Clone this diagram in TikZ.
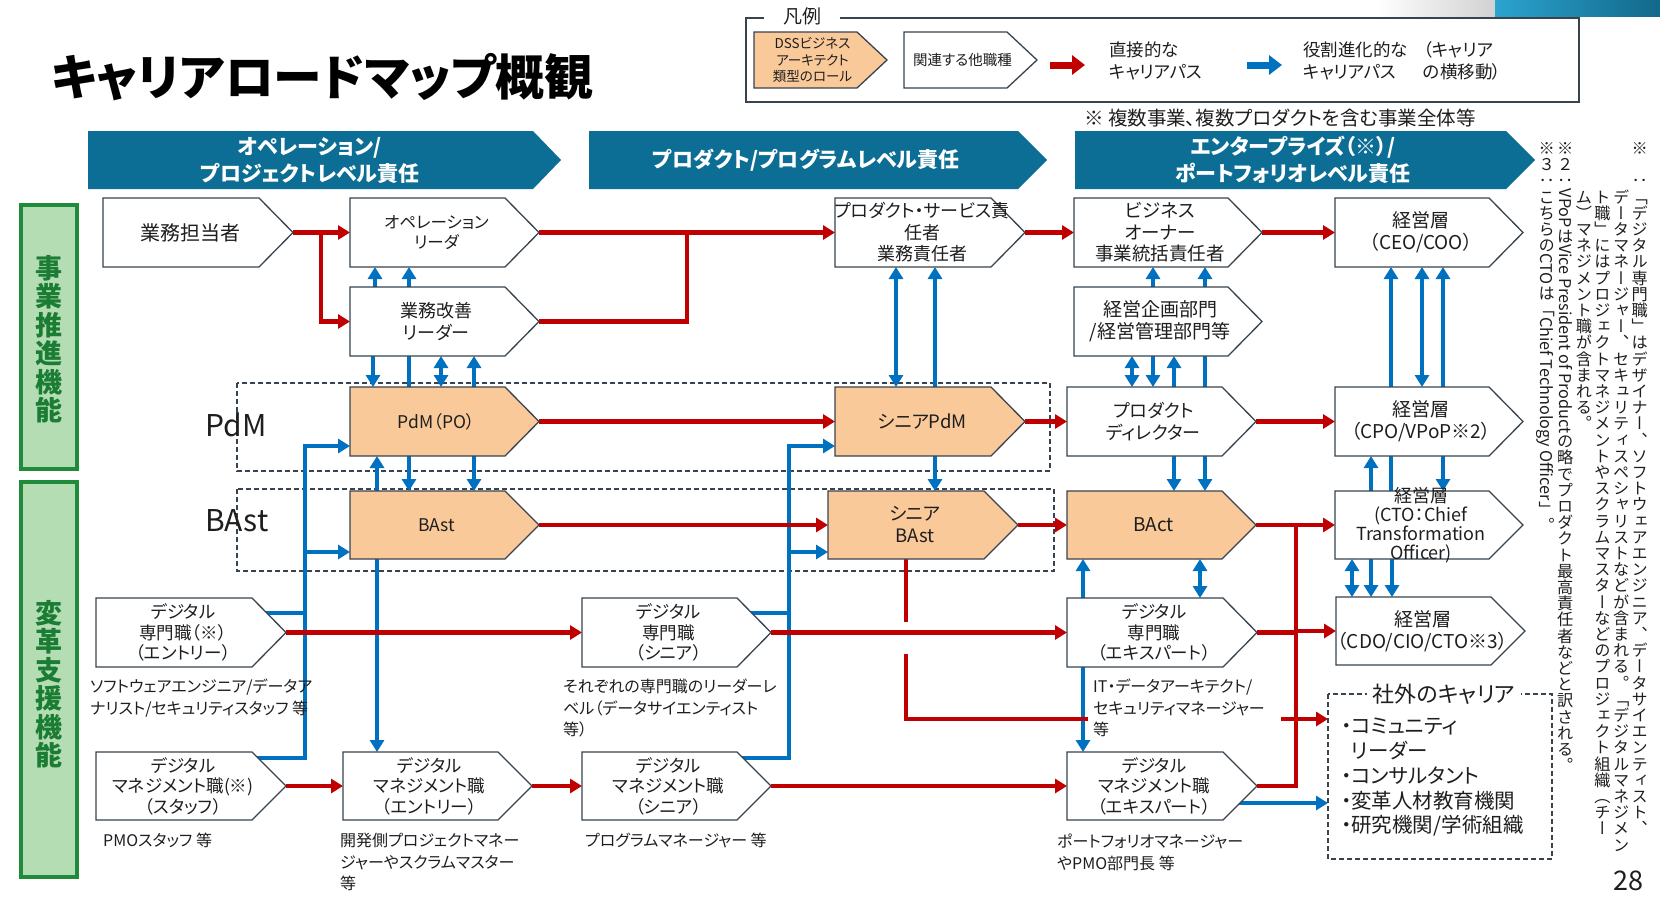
\documentclass[tikz,border=0pt]{standalone}
\usepackage{fontspec}
\setmainfont{Noto Sans CJK JP}[RawFeature=+palt]
\newfontfamily\vfont{Noto Sans CJK JP}[RawFeature=+vert]
\usetikzlibrary{arrows.meta}
\definecolor{myred}{HTML}{C00000}
\definecolor{myblue}{HTML}{0070C0}
\definecolor{hdrc}{HTML}{0C6E94}
\definecolor{org}{HTML}{FAC999}
\definecolor{bord}{HTML}{37434F}
\definecolor{gfill}{HTML}{B4DDB4}
\definecolor{gline}{HTML}{1E8A3A}
\definecolor{gtext}{HTML}{1B7C34}
\definecolor{txt}{HTML}{1E1E1E}
\definecolor{tealA}{HTML}{2BA3CF}
\definecolor{tealB}{HTML}{12688A}
\newcommand\fsz[2]{\fontsize{#1}{#2}\selectfont}
\newcommand\tatechar[1]{\rotatebox[origin=c]{90}{\makebox[1em]{\rule[-0.12em]{0pt}{1em}#1}}}
\def\tateT#1{\tateloop#1\tateend}
\def\tateloop#1{\ifx#1\tateend\else\tatechar{#1}\expandafter\tateloop\fi}
\pgfdeclarelayer{back}
\pgfdeclarelayer{bg}
\pgfsetlayers{back,bg,main}
\def\ptip{34}
\newcommand\careerbox[8]{%
  \path[boxline,fill=#1] (#4,#5) -- ({#6-\ptip},#5) -- (#6,{(#5+#7)/2}) -- ({#6-\ptip},#7) -- (#4,#7) -- cycle;
  \node[geom,minimum width={#6-#4},minimum height={#7-#5}] (#3) at ({(#4+#6)/2},{(#5+#7)/2}) {};
  \node[boxtext,#2] (#3t) at ({(#4+#6)/2-8},{(#5+#7)/2}) {#8};
}
\tikzset{
  boxline/.style={draw=bord,line width=1.3pt},
  geom/.style={rectangle,inner sep=0pt,outer sep=0pt},
  boxtext/.style={align=center,inner sep=0pt,font=\fsz{17.5}{20.5},text=txt},
  rl/.style={draw=myred,line width=4.4pt},
  bl/.style={draw=myblue,line width=4.4pt},
  arr/.style={-{Triangle[length=12pt,width=14pt]}},
  darr/.style={{Triangle[length=12pt,width=14pt]}-{Triangle[length=12pt,width=14pt]}},
  captxt/.style={align=left,anchor=north west,inner sep=0pt,font=\fsz{16}{21.5},text=txt},
  dashbox/.style={draw=bord,line width=1.1pt,dash pattern=on 5pt off 3pt},
  hdrtext/.style={align=center,text=white,font=\bfseries\fsz{21}{27},inner sep=0pt},
  grn/.style={fill=gfill,draw=gline,line width=3.5pt,inner sep=0pt},
  grntext/.style={align=center,text=gtext,font=\bfseries\fsz{27}{28.5},inner sep=0pt},
}
\begin{document}
\begin{tikzpicture}[x=1pt,y=-1pt]
\useasboundingbox (0,0) rectangle (1660,919);
\begin{pgfonlayer}{back}
  \fill[white] (0,0) rectangle (1660,919);
  \shade[left color=white,right color=black!18] (1376,0) rectangle (1495,16);
  \shade[left color=tealA,right color=tealB] (1495,0) rectangle (1660,16);
  \draw[dashbox] (237,383) rectangle (1050,471);
  \draw[dashbox] (237,489) rectangle (1054,571);
\end{pgfonlayer}

% title
\node[anchor=west,inner sep=0pt] (title) at (51,77) {\resizebox{542pt}{!}{\bfseries\fsz{54}{60}キャリアロードマップ概観}};

% legend
\node[geom,draw=bord,line width=1.3pt,minimum width=833pt,minimum height=84pt] (LG) at (1162.5,60) {};
\node[fill=white,inner xsep=19pt,inner ysep=2pt,font=\fsz{19}{22},text=txt] (LGt) at (802,16) {凡例};
\def\ptip{30}
\careerbox{org}{font=\fsz{13.5}{16.5}}{L1}{754}{32}{887}{88}{DSSビジネス\\アーキテクト\\類型のロール}
\careerbox{white}{font=\fsz{14.5}{17}}{L2}{904}{32}{1037}{88}{関連する他職種}
\def\ptip{34}
\coordinate (la1) at (1050,65); \coordinate (la2) at (1085,65);
\coordinate (lb1) at (1247,65); \coordinate (lb2) at (1282,65);
\draw[draw=myred,line width=7pt,-{Triangle[length=13pt,width=19pt]}] (la1) -- (la2);
\draw[draw=myblue,line width=7pt,-{Triangle[length=13pt,width=19pt]}] (lb1) -- (lb2);
\node[anchor=west,align=left,inner sep=0pt,font=\fsz{17.5}{22},text=txt] (lt1) at (1109,61) {直接的な\\キャリアパス};
\node[anchor=west,align=left,inner sep=0pt,font=\fsz{17.5}{22},text=txt] (lt2) at (1303,61) {役割進化的な\\キャリアパス};
\node[anchor=west,align=left,inner sep=0pt,font=\fsz{17.5}{22},text=txt] (lt3) at (1423,61) {（キャリア\\の横移動）};
\node[anchor=west,inner sep=0pt,font=\fsz{19.5}{23},text=txt] (note0) at (1084,118) {※ 複数事業、複数プロダクトを含む事業全体等};

% header banners
\path[fill=hdrc] (88,131) -- (533,131) -- (561,160) -- (533,189) -- (88,189) -- cycle;
\node[hdrtext] (H1) at (310,160) {オペレーション/\\プロジェクトレベル責任};
\path[fill=hdrc] (589,131) -- (1018,131) -- (1047,160) -- (1018,189) -- (589,189) -- cycle;
\node[hdrtext] (H2) at (806,160) {プロダクト/プログラムレベル責任};
\path[fill=hdrc] (1075,131) -- (1506,131) -- (1535,160) -- (1506,189) -- (1075,189) -- cycle;
\node[hdrtext] (H3) at (1293,160) {エンタープライズ（※）/\\ポートフォリオレベル責任};

% green side labels
\node[grn,minimum width=56pt,minimum height=264pt] (G1) at (49,337) {};
\node[grntext] (G1t) at (49,339) {事\\業\\推\\進\\機\\能};
\node[grn,minimum width=56pt,minimum height=395pt] (G2) at (49,679.5) {};
\node[grntext] (G2t) at (49,684) {変\\革\\支\\援\\機\\能};

% row labels
\node[anchor=west,inner sep=0pt,font=\fsz{30}{36},text=txt] (lpdm) at (205,425) {PdM};
\node[anchor=west,inner sep=0pt,font=\fsz{30}{36},text=txt] (lbast) at (205,521) {BAst};

% boxes
\careerbox{white}{font=\fsz{20}{24}}{A1}{103}{198}{293}{267}{業務担当者}
\careerbox{white}{font=\fsz{16.5}{20.5}}{B1}{350}{198}{539}{267}{オペレーション\\リーダ}
\careerbox{white}{font=\fsz{18}{22}}{B2}{350}{287}{539}{356}{業務改善\\リーダー}
\careerbox{org}{}{B3}{350}{387}{539}{456}{PdM（PO）}
\careerbox{org}{}{B4}{350}{491}{539}{559}{BAst}
\careerbox{white}{font=\fsz{18}{21.5}}{C1}{835}{198}{1025}{267}{プロダクト・サービス責\\任者\\業務責任者}
\careerbox{org}{font=\fsz{18.5}{22}}{C3}{835}{387}{1025}{456}{シニアPdM}
\careerbox{org}{font=\fsz{18.5}{22}}{C4}{828}{491}{1018}{559}{シニア\\BAst}
\careerbox{white}{font=\fsz{18.5}{21.5}}{D1}{1074}{198}{1262}{267}{ビジネス\\オーナー\\事業統括責任者}
\careerbox{white}{font=\fsz{19}{22}}{D2}{1074}{287}{1262}{356}{経営企画部門\\/経営管理部門等}
\careerbox{white}{font=\fsz{18}{22}}{D3}{1067}{387}{1256}{456}{プロダクト\\ディレクター}
\careerbox{org}{font=\fsz{19}{22}}{D4}{1067}{491}{1256}{559}{BAct}
\careerbox{white}{font=\fsz{19}{22}}{E1}{1335}{198}{1523}{267}{経営層\\（CEO/COO）}
\careerbox{white}{font=\fsz{19}{22}}{E3}{1335}{387}{1523}{456}{経営層\\（CPO/VPoP※2）}
\careerbox{white}{font=\fsz{18}{19}}{E4}{1335}{491}{1523}{559}{経営層\\(CTO：Chief\\Transformation\\Officer)}
\careerbox{white}{font=\fsz{19}{22}}{E5}{1336}{597}{1525}{665}{経営層\\（CDO/CIO/CTO※3）}
\careerbox{white}{}{A5}{96}{598}{286}{667}{デジタル\\専門職（※）\\（エントリー）}
\careerbox{white}{}{A6}{96}{752}{286}{820}{デジタル\\マネジメント職(※)\\（スタッフ）}
\careerbox{white}{}{B6}{343}{752}{532}{820}{デジタル\\マネジメント職\\（エントリー）}
\careerbox{white}{}{C5}{582}{598}{771}{667}{デジタル\\専門職\\（シニア）}
\careerbox{white}{}{C6}{582}{752}{771}{820}{デジタル\\マネジメント職\\（シニア）}
\careerbox{white}{}{D5}{1067}{598}{1257}{667}{デジタル\\専門職\\（エキスパート）}
\careerbox{white}{}{D6}{1067}{752}{1257}{820}{デジタル\\マネジメント職\\（エキスパート）}

% captions
\node[captxt] (capA5) at (90,679) {ソフトウェアエンジニア/データア\\ナリスト/セキュリティスタッフ 等};
\node[captxt] (capC5) at (563,679) {それぞれの専門職のリーダーレ\\ベル（データサイエンティスト\\等）};
\node[captxt,fill=white,text width=183pt,inner xsep=5pt] (capD5) at (1088,679) {IT・データアーキテクト/\\セキュリティマネージャー\\等};
\node[captxt] (capA6) at (103,833) {PMOスタッフ 等};
\node[captxt] (capB6) at (340,833) {開発側プロジェクトマネー\\ジャーやスクラムマスター\\等};
\node[captxt] (capC6) at (585,833) {プログラムマネージャー 等};
\node[captxt] (capD6) at (1057,834) {ポートフォリオマネージャー\\やPMO部門長 等};

% external career box
\node[geom,minimum width=224pt,minimum height=165pt] (EX) at (1440,776.5) {};
\draw[dashbox] (EX.north west) rectangle (EX.south east);
\node[fill=white,inner xsep=6pt,inner ysep=1pt,font=\fsz{22}{26},text=txt] (EXt) at (1444,694) {社外のキャリア};
\node[anchor=north west,align=left,inner sep=0pt,font=\fsz{20.5}{24.8},text=txt] (EXi) at (1341,718) {・コミュニティ\\\phantom{・}リーダー\\・コンサルタント\\・変革人材教育機関\\・研究機関/学術組織};

% page number
\node[inner sep=0pt,font=\fsz{27}{30},text=txt] (pgno) at (1628,881) {28};

% vertical notes
\node[rotate=-90,anchor=north west,inner sep=0pt,align=left,font=\vfont\fsz{16.2}{18.6},text=txt] (notes) at (1648,140) {%
\tateT{※}\hspace{1em}\tateT{：「デジタル専門職」はデザイナー、ソフトウェアエンジニア、データサイエンティスト、}\\
\hspace*{3em}\tateT{データマネージャー、セキュリティスペシャリストなどが含まれる。「デジタルマネジメン}\\
\hspace*{3em}\tateT{ト職」にはプロジェクトマネジメントやスクラムマスターなどのプロジェクト組織（チー}\\
\hspace*{3em}\tateT{ム）マネジメント職が含まれる。}\\
\tateT{※２：}VPoP\tateT{は}Vice President of Product\tateT{の略でプロダクト最高責任者などと訳される。}\\
\tateT{※３：こちらの}CTO\tateT{は「}Chief Technology Officer\tateT{」。}};

% connectors
\begin{pgfonlayer}{bg}
  % blue: left group
  \draw[bl,arr] (375,0 |- B2.north) -- (375,0 |- B1.south);
  \draw[bl,arr] (409,0 |- B2.north) -- (409,0 |- B1.south);
  \draw[bl,arr] (373,0 |- B2.south) -- (373,0 |- B3.north);
  \draw[bl,arr] (409,0 |- B2.south) -- (409,0 |- B4.north);
  \draw[bl,darr] (441,0 |- B2.south) -- (441,0 |- B3.north);
  \draw[bl,arr] (474,0 |- B3.north) -- (474,0 |- B2.south);
  \draw[bl,arr] (377,0 |- B4.north) -- (377,0 |- B3.south);
  \draw[bl,arr] (474,0 |- B3.south) -- (474,0 |- B4.north);
  \draw[bl,arr] (377,0 |- B4.south) -- (377,0 |- B6.north);
  \draw[bl] (A5.center |- 0,613) -- (305,613);
  \draw[bl,arr] (A6.center |- 0,758) -| (305,446) -- (B3.west |- 0,446);
  \draw[bl,arr] (305,552) -- (B4.west |- 0,552);
  % blue: middle
  \draw[bl] (C5.center |- 0,613) -- (789,613);
  \draw[bl,arr] (C6.center |- 0,758) -| (789,446) -- (C3.west |- 0,446);
  \draw[bl,arr] (789,552) -- (C4.west |- 0,552);
  \draw[bl,darr] (896,0 |- C1.south) -- (896,0 |- C3.north);
  \draw[bl,arr] (935,0 |- C3.north) -- (935,0 |- C1.south);
  \draw[bl,arr] (935,0 |- C3.south) -- (935,0 |- C4.north);
  % blue: D column
  \draw[bl,arr] (1153,0 |- D2.north) -- (1153,0 |- D1.south);
  \draw[bl,arr] (1205,0 |- D2.north) -- (1205,0 |- D1.south);
  \draw[bl,darr] (1132,0 |- D2.south) -- (1132,0 |- D3.north);
  \draw[bl,arr] (1153,0 |- D2.south) -- (1153,0 |- D3.north);
  \draw[bl,arr] (1174,0 |- D3.north) -- (1174,0 |- D2.south);
  \draw[bl,arr] (1205,0 |- D2.south) -- (1205,0 |- D4.north);
  \draw[bl,arr] (1174,0 |- D3.south) -- (1174,0 |- D4.north);
  \draw[bl,arr] (1083,0 |- D5.north) -- (1083,0 |- D4.south);
  \draw[bl,darr] (1200,0 |- D4.south) -- (1200,0 |- D5.north);
  \draw[bl,arr] (1083,0 |- D5.south) -- (1083,0 |- D6.north);
  \draw[bl,arr] (D6.center |- 0,803) -- (EX.west |- 0,803);
  % blue: E column
  \draw[bl,arr] (1391,0 |- E4.north) -- (1391,0 |- E1.south);
  \draw[bl,darr] (1422,0 |- E1.south) -- (1422,0 |- E3.north);
  \draw[bl,arr] (1443,0 |- E3.north) -- (1443,0 |- E1.south);
  \draw[bl,arr] (1371,0 |- E4.north) -- (1371,0 |- E3.south);
  \draw[bl,arr] (1443,0 |- E3.south) -- (1443,0 |- E4.north);
  \draw[bl,darr] (1352,0 |- E4.south) -- (1352,0 |- E5.north);
  \draw[bl,arr] (1371,0 |- E4.south) -- (1371,0 |- E5.north);
  \draw[bl,arr] (1392,0 |- E4.south) -- (1392,0 |- E5.north);
  % red
  \draw[rl,arr] (A1.east) -- (B1.west);
  \draw[rl,arr] (321,0 |- A1.east) |- (B2.west);
  \draw[rl,arr] (B1.east) -- (C1.west);
  \draw[rl] (B2.east) -| (687,0 |- B1.east);
  \draw[rl,arr] (C1.east) -- (D1.west);
  \draw[rl,arr] (D1.east) -- (E1.west);
  \draw[rl,arr] (B3.east) -- (C3.west);
  \draw[rl,arr] (C3.east) -- (D3.west);
  \draw[rl,arr] (D3.east) -- (E3.west);
  \draw[rl,arr] (B4.east) -- (C4.west);
  \draw[rl,arr] (C4.east) -- (D4.west);
  \draw[rl,arr] (D4.east) -- (E4.west);
  \draw[rl] (D6.east) -| (1296,0 |- D4.east);
  \draw[rl,arr] (1296,0 |- E5.west) -- (E5.west);
  \draw[rl] (D5.east) -- (1296,0 |- D5.east);
  \draw[rl,arr] (A5.east) -- (C5.west);
  \draw[rl,arr] (C5.east) -- (D5.west);
  \draw[rl,arr] (A6.east) -- (B6.west);
  \draw[rl,arr] (B6.east) -- (C6.west);
  \draw[rl,arr] (C6.east) -- (D6.west);
  \coordinate (g1) at (906,622);
  \coordinate (g2) at (906,654);
  \draw[rl] (906,0 |- C4.south) -- (g1);
  \draw[rl,arr] (g2) |- (EX.west |- 0,719);
\end{pgfonlayer}
\end{tikzpicture}
\end{document}
